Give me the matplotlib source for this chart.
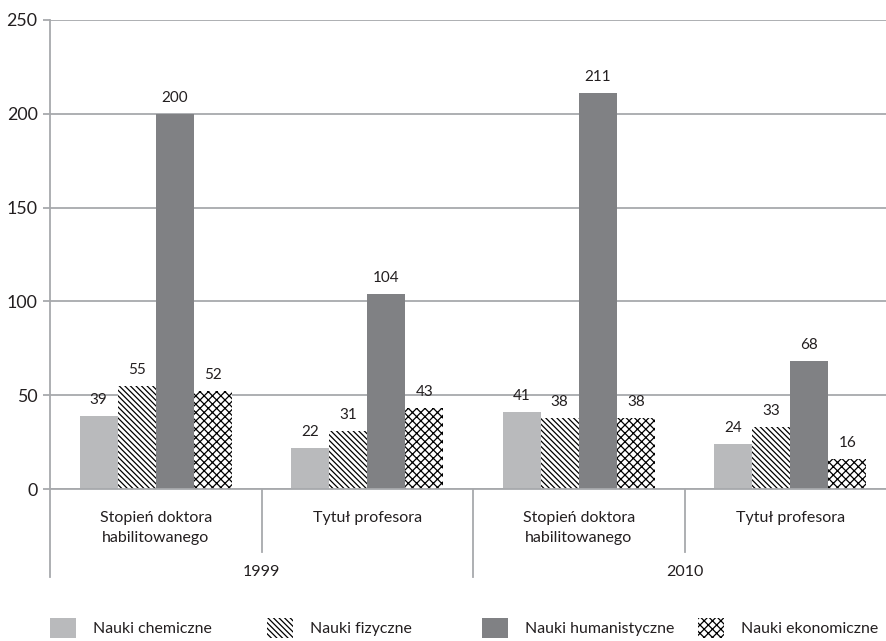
import matplotlib.pyplot as plt
import numpy as np
from matplotlib.patches import Patch

plt.rcParams['font.family'] = ['Lato', 'DejaVu Sans']
plt.rcParams['hatch.linewidth'] = 0.9

# groups along the x axis
categories = ['Stopień doktora\nhabilitowanego', 'Tytuł profesora',
              'Stopień doktora\nhabilitowanego', 'Tytuł profesora']
years = ['1999', '2010']

series_names = ['Nauki chemiczne', 'Nauki fizyczne',
                'Nauki humanistyczne', 'Nauki ekonomiczne']
chem = [39, 22, 41, 24]
fiz = [55, 31, 38, 33]
hum = [200, 104, 211, 68]
eko = [52, 43, 38, 16]

colors = ['#b9babc', 'white', '#808184', 'white']
hatches = [None, '\\' * 6, None, 'x' * 4]
grey = '#a7a9ac'
txt = '#231f20'

fig = plt.figure(figsize=(8.86, 6.41), dpi=100)
ax = fig.add_axes([50 / 886, 1 - 489 / 641, 846 / 886, 469 / 641])

x = np.arange(len(categories))
w = 0.18
for i, vals in enumerate([chem, fiz, hum, eko]):
    pos = x + (i - 1.5) * w
    ax.bar(pos, vals, w, color=colors[i], hatch=hatches[i],
           edgecolor='black', linewidth=0, zorder=2)
    for xp, v in zip(pos, vals):
        ax.annotate(str(v), (xp, v), xytext=(0, 6.5), textcoords='offset points',
                    ha='center', va='bottom', fontsize=11, color=txt)

ax.set_xlim(-0.5, 3.5)
ax.set_ylim(0, 250)
ax.set_yticks(np.arange(0, 251, 50))
ax.yaxis.grid(True, color=grey, linewidth=1.3, zorder=0)
ax.set_axisbelow(True)
ax.tick_params(axis='y', length=5, width=1.3, color=grey, labelsize=12.8,
               labelcolor=txt, pad=4)

ax.set_xticks(x)
ax.set_xticklabels(categories, fontsize=11.5, color=txt, linespacing=1.5)
ax.tick_params(axis='x', length=0, pad=16)

for s in ['top', 'right']:
    ax.spines[s].set_visible(False)
for s in ['left', 'bottom']:
    ax.spines[s].set_color(grey)
    ax.spines[s].set_linewidth(1.3)

# separators below the axis
trans = ax.get_xaxis_transform()
for xb in [0.5, 2.5]:
    ax.plot([xb, xb], [0, -0.134], color=grey, lw=1.3, transform=trans, clip_on=False)
for xb in [-0.5, 1.5, 3.5]:
    ax.plot([xb, xb], [0, -0.188], color=grey, lw=1.3, transform=trans, clip_on=False)

for j, yr in enumerate(years):
    ax.text(2 * j + 0.5, -0.177, yr, transform=trans, ha='center', va='center',
            fontsize=11.5, color=txt)

# legend, one entry per column
leg_x = [50, 267, 482, 698]
for i, name in enumerate(series_names):
    h = Patch(facecolor=colors[i], hatch=hatches[i], edgecolor='black', linewidth=0)
    fig.legend([h], [name], loc='center left',
               bbox_to_anchor=(leg_x[i] / 886, 1 - 628 / 641),
               frameon=False, fontsize=11.4, handlelength=1.65, handleheight=1.5,
               handletextpad=1.05, borderpad=0, borderaxespad=0, labelcolor=txt)

fig.savefig('out.png', dpi=100)
